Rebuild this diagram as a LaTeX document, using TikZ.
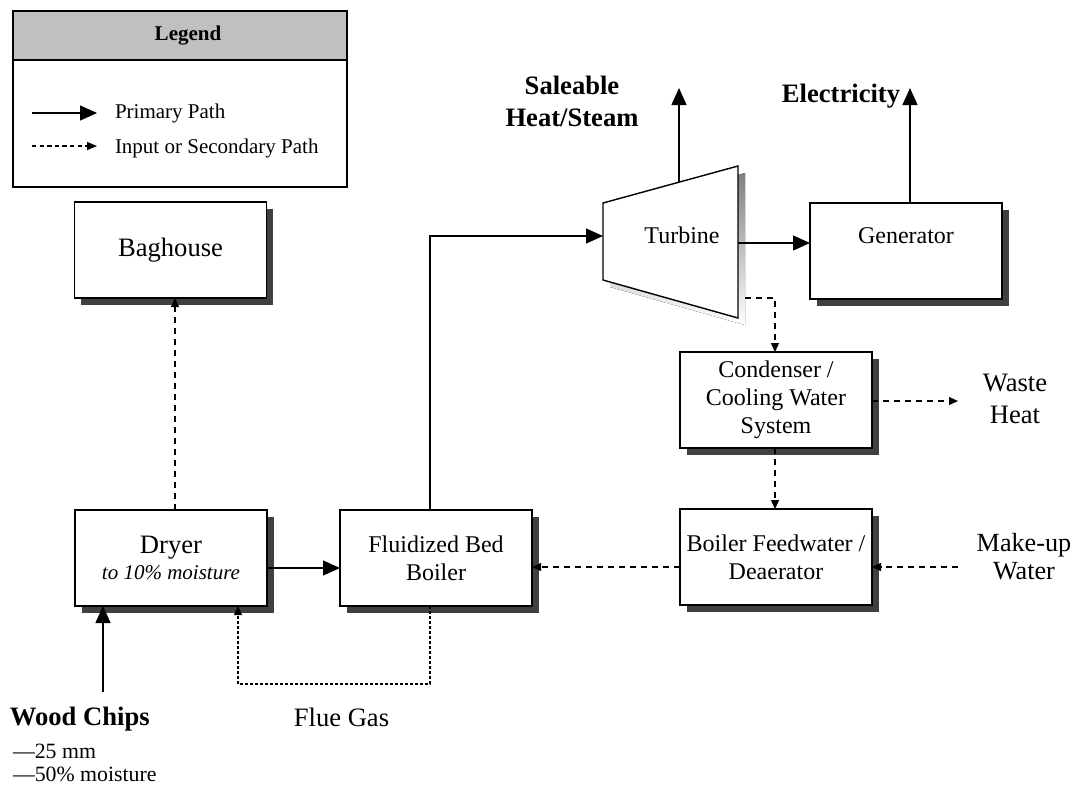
\documentclass[tikz,border=0pt]{standalone}
\usepackage{fontspec}
\setmainfont{Liberation Serif}
\usetikzlibrary{arrows.meta}

\definecolor{shade}{RGB}{64,64,64}
\definecolor{headgray}{RGB}{192,192,192}

\newcommand\fbig{\fontsize{13.3}{16}\selectfont}
\newcommand\fmid{\fontsize{12}{14}\selectfont}
\newcommand\fsml{\fontsize{10.5}{13}\selectfont}

\begin{document}
\begin{tikzpicture}[x=0.5pt,y=-0.5pt,line width=0.65pt,
  every node/.style={inner sep=0pt,outer sep=0pt},
  box/.style={draw,fill=white,line width=0.7pt,minimum width=96pt,minimum height=48pt,
    align=center,font=\fmid},
  shadowbox/.style={fill=shade,minimum width=96pt,minimum height=48pt},
  primary/.style={-{Triangle[length=8.5pt,width=7.5pt]}},
  secondary/.style={dash pattern=on 3pt off 2.5pt,-{Triangle[length=4.5pt,width=4pt]}},
  fluegas/.style={dash pattern=on 1.5pt off 1pt,-{Triangle[length=4.5pt,width=4pt]}},
  legdash/.style={dash pattern=on 2.2pt off 1.6pt,-{Triangle[length=5pt,width=4pt]}},
  bigtext/.style={font=\fbig,align=center},
]
\useasboundingbox (0,0) rectangle (1077,784);

% ---- legend ----
\draw[line width=0.7pt,fill=white] (13,11) rectangle (347,187);
\draw[line width=0.7pt,fill=headgray] (13,11) rectangle (347,60);
\node[font=\fsml\bfseries,anchor=base] (legtitle) at (188,40) {Legend};
\coordinate (lpA) at (32,113);
\coordinate (lpB) at (97,113);
\coordinate (lsA) at (32,146);
\coordinate (lsB) at (97,146);
\draw[primary] (lpA) -- (lpB);
\draw[legdash] (lsA) -- (lsB);
\node[font=\fsml,anchor=base west] (legprim) at (115,118) {Primary Path};
\node[font=\fsml,anchor=base west] (legsec) at (115,153) {Input or Secondary Path};

% ---- shadows under the process units ----
\node[shadowbox] (bagsh) at (177,257) {};
\node[shadowbox] (drysh) at (177.5,565) {};
\node[shadowbox] (boish) at (442.5,565) {};
\node[shadowbox] (gensh) at (912.5,258) {};
\node[shadowbox] (condsh) at (782.5,407) {};
\node[shadowbox] (bfwsh) at (782.5,564) {};
\fill[shade] (610,210) -- (745,173) -- (745,325) -- (610,287) -- cycle;

% ---- process units ----
\node[box,font=\fbig] (bag) at (170.5,250) {Baghouse};
\node[box] (dryer) at (171,558) {{\fbig Dryer}\\[-1pt]{\fsml\itshape to 10\% moisture}};
\node[box] (boiler) at (436,558) {Fluidized Bed\\Boiler};
\node[box] (gen) at (906,251) {};
\node[font=\fmid,anchor=base] (gentxt) at (906,243) {Generator};
\node[box] (cond) at (776,400) {Condenser /\\Cooling Water\\System};
\node[box] (bfw) at (776,557) {Boiler Feedwater /\\Deaerator};

% turbine: trapezoid
\draw[line width=0.7pt,fill=white] (603,203) -- (738,166) -- (738,318) -- (603,280) -- cycle;
\node[font=\fmid,anchor=base] (turb) at (682,243) {Turbine};
\coordinate (tin) at (603,236);
\coordinate (tout) at (738,243);
\coordinate (ttop) at (679,182);
\coordinate (texh) at (745,298);

% ---- free texts ----
\node[bigtext] (steam) at (572,101) {\bfseries Saleable\\\bfseries Heat/Steam};
\node[font=\fbig\bfseries,anchor=base] (elec) at (841,102) {Electricity};
\node[bigtext] (waste) at (1015,399) {Waste\\Heat};
\node[bigtext,font=\fontsize{13.1}{14}\selectfont] (makeup) at (1024,557) {Make-up\\Water};
\node[font=\fbig\bfseries,anchor=base west] (wood) at (10,725) {Wood Chips};
\node[font=\fontsize{10.9}{13}\selectfont,anchor=base west] (woodA) at (13,758) {—25 mm};
\node[font=\fontsize{10.9}{13}\selectfont,anchor=base west] (woodB) at (13,781) {—50\% moisture};
\node[font=\fbig,anchor=base] (flue) at (341.5,726) {Flue Gas};

% ---- helper points for connectors ----
\coordinate (woodin) at (103,692);
\coordinate (fgA) at (430,684);
\coordinate (fgB) at (238,684);
\coordinate (bagx) at (175,0);
\coordinate (dryout) at (267,568);
\coordinate (steamtip) at (679,88);
\coordinate (electip) at (910,88);
\coordinate (condx) at (775,0);
\coordinate (wastetip) at (958,401);
\coordinate (makeupin) at (958,567);

% ---- primary paths ----
\draw[primary] (woodin) -- (woodin |- dryer.south);
\draw[primary] (dryout) -- (dryout -| boiler.west);
\draw[primary] (fgA |- boiler.north) |- (tin);
\draw[primary] (tout) -- (tout -| gen.west);
\draw[primary] (ttop) -- (steamtip);
\draw[primary] (electip |- gen.north) -- (electip);

% ---- secondary paths ----
\draw[secondary] (bagx |- dryer.north) -- (bagx |- bag.south);
\draw[fluegas] (fgA |- boiler.south) -- (fgA) -- (fgB) -- (fgB |- dryer.south);
\draw[secondary] (texh) -| (condx |- cond.north);
\draw[secondary] (wastetip -| cond.east) -- (wastetip);
\draw[secondary] (condx |- cond.south) -- (condx |- bfw.north);
\draw[secondary] (makeupin) -- (makeupin -| bfw.east);
\draw[secondary] (makeupin -| bfw.west) -- (makeupin -| boiler.east);
\end{tikzpicture}
\end{document}
